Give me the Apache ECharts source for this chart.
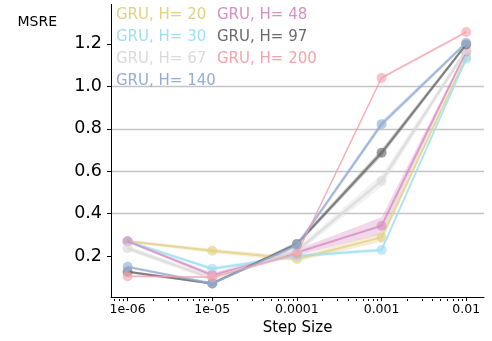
<!DOCTYPE html>
<html>
<head>
<meta charset="utf-8">
<style>
  html, body { margin: 0; padding: 0; background: #fff; }
  #chart { width: 492px; height: 341px; }
</style>
<script src="https://cdn.jsdelivr.net/npm/echarts@6/dist/echarts.min.js"></script>
</head>
<body>
<div id="chart"></div>
<script>
// Step sizes tried and the mean error per hidden size
const stepSizes = [1e-6, 1e-5, 1e-4, 1e-3, 1e-2];
const xTickLabels = ['1e-06', '1e-05', '0.0001', '0.001', '0.01'];
const yTicks = [0.2, 0.4, 0.6, 0.8, 1.0, 1.2];

const hiddenSizes = [20, 30, 48, 67, 97, 140, 200];
const msreH20  = [0.270, 0.225, 0.186, 0.288, 1.140];
const msreH30  = [0.270, 0.140, 0.200, 0.229, 1.130];
const msreH48  = [0.270, 0.110, 0.217, 0.343, 1.164];
const msreH67  = [0.237, 0.095, 0.225, 0.555, 1.172];
const msreH97  = [0.126, 0.071, 0.257, 0.687, 1.198];
const msreH140 = [0.149, 0.071, 0.250, 0.822, 1.206];
const msreH200 = [0.105, 0.100, 0.210, 1.040, 1.256];

// half-width of the shaded spread around each mean
const spreadH20  = [0.006, 0.010, 0.012, 0.020, 0.006];
const spreadH30  = [0.006, 0.008, 0.008, 0.008, 0.006];
const spreadH48  = [0.006, 0.010, 0.014, 0.040, 0.006];
const spreadH67  = [0.012, 0.012, 0.014, 0.028, 0.010];
const spreadH97  = [0.006, 0.006, 0.010, 0.016, 0.008];
const spreadH140 = [0.006, 0.006, 0.010, 0.014, 0.008];
const spreadH200 = [0.005, 0.005, 0.008, 0.006, 0.006];

const colors = ['#e3cf86', '#9fdff2', '#d690c2', '#dadada', '#6a6a6a', '#93add6', '#f4a3ac'];
const lineWidths = [2, 2, 2, 2.5, 2, 2, 1.3];

const means = [msreH20, msreH30, msreH48, msreH67, msreH97, msreH140, msreH200];
const spreads = [spreadH20, spreadH30, spreadH48, spreadH67, spreadH97, spreadH140, spreadH200];
const names = hiddenSizes.map(h => 'GRU, H= ' + h);

// minor ticks of the log axis: 2..9 times each power of ten
const minorTicks = [];
for (let e = -7; e <= -2; e++) {
  for (let m = 2; m <= 9; m++) minorTicks.push(m * Math.pow(10, e));
}

const xMin = Math.pow(10, -6.196);
const xMax = Math.pow(10, -1.79);
const font = 'DejaVu Sans';
const plotRect = { left: 111, right: 8, top: 4.5, bottom: 42 };

function bandSeries(i) {
  const mean = means[i], sp = spreads[i];
  return {
    type: 'custom',
    name: names[i],
    xAxisIndex: 0, yAxisIndex: 0,
    silent: true,
    z: 1,
    data: [0],
    renderItem: function (params, api) {
      const upper = stepSizes.map((x, k) => api.coord([x, mean[k] + sp[k]]));
      const lower = stepSizes.map((x, k) => api.coord([x, mean[k] - sp[k]])).reverse();
      return {
        type: 'polygon',
        shape: { points: upper.concat(lower) },
        style: { fill: colors[i], opacity: 0.35 }
      };
    }
  };
}

function lineSeries(i) {
  return {
    type: 'line',
    name: names[i],
    xAxisIndex: 0, yAxisIndex: 0,
    data: stepSizes.map((x, k) => [x, means[i][k]]),
    symbol: 'circle',
    symbolSize: 10,
    z: 3 + i,
    lineStyle: { color: colors[i], width: lineWidths[i], opacity: 0.8 },
    itemStyle: { color: colors[i], opacity: 0.65 },
    emphasis: { disabled: true }
  };
}

const series = [];
for (let i = 0; i < means.length; i++) series.push(bandSeries(i));
for (let i = 0; i < means.length; i++) series.push(lineSeries(i));

function legendData(idx) {
  return idx.map(i => ({ name: names[i], textStyle: { color: colors[i] } }));
}
const legendBase = {
  orient: 'vertical',
  icon: 'none',
  itemWidth: 0,
  itemHeight: 14,
  itemGap: 7,
  selectedMode: false,
  textStyle: { fontFamily: font, fontSize: 15, padding: [0, 0, 0, -5] },
  top: 3
};

const chart = echarts.init(document.getElementById('chart'));
chart.setOption({
  animation: false,
  backgroundColor: '#fff',
  grid: [Object.assign({}, plotRect), Object.assign({}, plotRect)],
  legend: [
    Object.assign({}, legendBase, { left: 111, data: legendData([0, 1, 3, 5]) }),
    Object.assign({}, legendBase, { left: 212, data: legendData([2, 4, 6]) })
  ],
  xAxis: [
    {
      type: 'log', logBase: 10, min: xMin, max: xMax, gridIndex: 0,
      position: 'bottom',
      name: 'Step Size', nameLocation: 'middle', nameGap: 21,
      nameTextStyle: { fontFamily: font, fontSize: 15, color: '#000' },
      axisLine: { lineStyle: { color: '#000', width: 1 } },
      axisTick: { show: true, length: 4, customValues: stepSizes, lineStyle: { color: '#000' } },
      axisLabel: {
        customValues: stepSizes, margin: 6,
        fontFamily: font, fontSize: 12.5, color: '#000',
        formatter: v => xTickLabels[stepSizes.findIndex(s => Math.abs(Math.log10(s) - Math.log10(v)) < 1e-6)] || ''
      },
      splitLine: { show: false },
      minorTick: { show: false }
    },
    {
      // minor ticks only, on a twin grid laid over the main one
      type: 'log', logBase: 10, min: xMin, max: xMax, gridIndex: 1,
      position: 'bottom',
      axisLine: { show: false },
      axisTick: { show: true, length: 2, customValues: minorTicks.filter(v => v > xMin && v < xMax), lineStyle: { color: '#000' } },
      axisLabel: { show: false },
      splitLine: { show: false }
    }
  ],
  yAxis: [
    {
      type: 'value', min: 0.0065, max: 1.386, splitNumber: 7, gridIndex: 0,
      name: 'MSRE', nameLocation: 'end', nameGap: -25,
      nameTextStyle: { fontFamily: font, fontSize: 14, color: '#000', align: 'right', padding: [0, 54, 0, 0] },
      axisLine: { show: true, lineStyle: { color: '#000', width: 1 } },
      axisTick: { show: true, length: 4, customValues: yTicks, lineStyle: { color: '#000' } },
      axisLabel: {
        customValues: yTicks, margin: 9,
        fontFamily: font, fontSize: 17.5, color: '#000',
        formatter: v => v.toFixed(1)
      },
      splitLine: { show: true, showMinLine: false, showMaxLine: false, lineStyle: { color: '#c4c4c4', width: 1.3 } }
    },
    {
      type: 'value', min: 0, max: 1, gridIndex: 1, show: false
    }
  ],
  series: series
});
</script>
</body>
</html>
